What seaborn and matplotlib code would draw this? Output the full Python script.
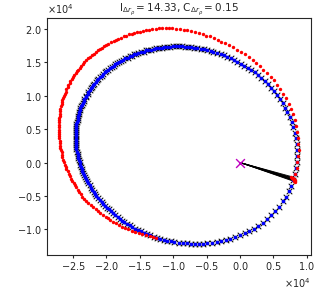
import numpy as np
import matplotlib
matplotlib.use("Agg")
import matplotlib.pyplot as plt
import seaborn as sns

# Positions, in units of 100 (axes show x10^4)
true_x = [80,82,84,85,86,86,85,84,82,80,78,75,71,68,64,60,55,51,46,42,37,32,27,22,17,12,6,1,-4,-9,-14,-19,-24,-29,-35,-40,-44,-49,-54,-59,-64,-69,-73,-78,-83,-87,-92,-96,-100,-105,-109,-113,-117,-121,-125,-129,-133,-137,-141,-144,-148,-152,-155,-159,-162,-165,-168,-172,-175,-178,-181,-184,-187,-189,-192,-195,-197,-200,-202,-205,-207,-209,-212,-214,-216,-218,-220,-222,-223,-225,-227,-228,-230,-231,-233,-234,-235,-237,-238,-239,-240,-241,-241,-242,-243,-243,-244,-245,-245,-245,-246,-246,-246,-246,-246,-246,-246,-245,-245,-245,-244,-243,-243,-242,-241,-240,-239,-238,-237,-236,-235,-233,-232,-230,-229,-227,-225,-223,-221,-219,-217,-215,-212,-210,-207,-205,-202,-199,-196,-193,-190,-187,-183,-180,-176,-173,-169,-165,-161,-157,-152,-148,-144,-139,-134,-129,-124,-119,-114,-109,-103,-98,-92,-86,-80,-74,-68,-62,-55,-49,-42,-35,-28,-21,-15,-8,0,7,14,21,27,34,41,47,53,59,64,69,73,77]
true_y = [-26,-17,-8,1,10,19,27,36,44,53,60,68,75,82,89,95,101,107,112,117,122,126,131,135,138,142,145,148,151,154,156,158,161,162,164,166,167,168,170,170,171,172,173,173,173,174,174,174,174,173,173,173,172,172,171,170,169,169,168,166,165,164,163,162,160,159,157,156,154,152,150,149,147,145,143,141,139,137,135,132,130,128,125,123,121,118,116,113,111,108,106,103,100,98,95,92,89,86,84,81,78,75,72,69,66,63,60,57,54,51,48,45,42,39,35,32,29,26,23,20,16,13,10,7,4,1,-3,-6,-9,-12,-15,-19,-22,-25,-28,-31,-34,-38,-41,-44,-47,-50,-53,-56,-59,-62,-65,-68,-70,-73,-76,-79,-81,-84,-87,-89,-92,-94,-97,-99,-101,-103,-105,-107,-109,-111,-113,-114,-116,-117,-118,-119,-120,-121,-121,-122,-122,-122,-122,-121,-120,-119,-118,-116,-114,-112,-109,-106,-103,-99,-95,-90,-84,-79,-72,-66,-58,-51,-43,-35]
# estimated track coincides with the true track in the reference
est_x = list(true_x)
est_y = list(true_y)
red_x = [83,85,86,87,88,87,87,86,84,82,79,76,73,69,65,60,56,51,46,40,35,30,24,19,13,7,1,-4,-10,-16,-22,-28,-33,-39,-45,-51,-56,-62,-68,-73,-79,-84,-90,-95,-101,-106,-111,-116,-121,-126,-131,-136,-140,-145,-149,-154,-158,-162,-166,-170,-174,-178,-182,-186,-189,-193,-197,-200,-204,-207,-210,-213,-216,-219,-222,-225,-228,-230,-233,-235,-238,-240,-242,-244,-246,-248,-250,-252,-254,-255,-257,-258,-260,-261,-262,-263,-265,-266,-267,-267,-268,-269,-269,-270,-270,-271,-271,-271,-271,-271,-271,-271,-271,-271,-271,-270,-270,-269,-269,-268,-267,-267,-266,-265,-263,-262,-261,-260,-258,-256,-255,-253,-251,-249,-247,-245,-243,-241,-238,-236,-233,-230,-227,-223,-220,-216,-213,-209,-205,-201,-197,-194,-190,-186,-181,-177,-172,-167,-162,-157,-151,-146,-140,-135,-130,-125]
red_y = [-17,-8,1,10,19,28,37,46,55,64,72,80,88,96,103,110,116,123,128,134,139,145,149,154,158,162,166,169,173,176,179,181,184,186,189,190,192,194,195,197,198,199,200,200,201,201,202,201,201,200,200,199,198,197,196,195,194,193,192,190,189,187,185,184,182,180,178,176,174,172,170,168,165,163,161,158,156,153,150,148,145,142,139,137,134,131,128,125,122,119,116,113,110,106,103,100,97,93,90,87,84,80,77,73,70,67,63,60,56,53,49,46,43,39,36,32,29,25,22,18,15,11,8,4,1,-3,-6,-10,-13,-17,-20,-24,-27,-31,-34,-37,-41,-44,-47,-51,-54,-57,-60,-63,-66,-69,-72,-75,-78,-81,-83,-86,-89,-91,-94,-96,-98,-100,-102,-104,-105,-107,-108,-110,-112,-113]
start_x = [77,78.5,80,81,82,82.5,80.5,79.5,83,81.5]
start_y = [-21,-22.5,-24,-25,-26.5,-28,-26,-23.5,-29,-27]
origin_x = [0]
origin_y = [0]
title = r"$\mathrm{I}_{\Delta r_{\rho}}=14.33$, $\mathrm{C}_{\Delta r_{\rho}}=0.15$"

scale = 100
tx = np.array(true_x) * scale; ty = np.array(true_y) * scale
ex = np.array(est_x) * scale; ey = np.array(est_y) * scale
sx = np.array(start_x) * scale; sy = np.array(start_y) * scale
rx = np.r_[sx, np.array(red_x) * scale]; ry = np.r_[sy, np.array(red_y) * scale]
ox = np.array(origin_x) * scale; oy = np.array(origin_y) * scale

sns.set_theme(style="ticks", rc={"xtick.labelsize": 7, "ytick.labelsize": 7, "axes.titlesize": 7.5,
                                 "xtick.major.size": 2.5, "ytick.major.size": 2.5, "xtick.major.width": 0.8,
                                 "ytick.major.width": 0.8, "axes.linewidth": 0.8,
                                 "xtick.major.pad": 1.0, "ytick.major.pad": 1.5})
fig = plt.figure(figsize=(3.2, 2.89), dpi=100)
ax = fig.add_axes([0.1478, 0.1176, 0.824, 0.819])
for cx, cy in zip(sx, sy):
    ax.plot([ox[0], cx], [oy[0], cy], color="black", lw=0.6, zorder=1)
sns.scatterplot(x=tx, y=ty, marker="x", color="black", s=16, linewidth=0.7, ax=ax, zorder=2)
sns.scatterplot(x=ex, y=ey, marker="o", color="blue", s=7, linewidth=0, ax=ax, zorder=3)
sns.scatterplot(x=rx, y=ry, marker="o", color="red", s=6, linewidth=0, ax=ax, zorder=4)
sns.scatterplot(x=ox, y=oy, marker="x", color="#bf00bf", s=40, linewidth=1, ax=ax, zorder=5)
ax.set_xlim(-28850, 10640)
ax.set_ylim(-13850, 21590)
ax.ticklabel_format(style="sci", scilimits=(4, 4), useMathText=True)
ax.set_title(title, pad=4)
fig.savefig("out.png", dpi=100)
